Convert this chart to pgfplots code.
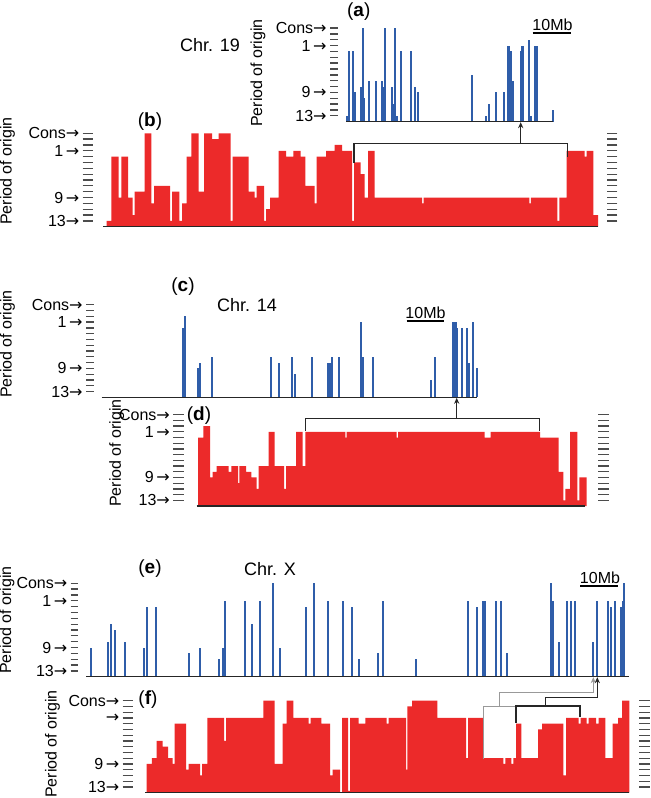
\documentclass[border=0pt]{standalone}
\usepackage{pgfplots}
\pgfplotsset{compat=1.18}
\usepackage{fontspec}
\setmainfont{Liberation Sans}
\newfontfamily\dv{DejaVu Sans}
\usetikzlibrary{arrows.meta}
\definecolor{spike}{RGB}{47,93,169}
\definecolor{barred}{RGB}{236,42,42}
\newcommand\ar{{\dv →}}
\newcommand\lab{\fontsize{8}{9}\selectfont}
\newcommand\chr{\fontsize{9}{10}\selectfont}
\newcommand\pl{\fontsize{9.5}{11}\selectfont}
\pgfplotsset{
  panel/.style={
    scale only axis, clip=false,
    axis line style={draw=none},
    ymin=0, ymax=16, ytick={1,...,16}, xtick=\empty,
    tick align=outside, ytick pos=left,
    tick style={color=black!70, line width=0.65pt},
    yticklabel style={font=\lab, inner sep=0pt, xshift=-1.5pt},
    yticklabels={13\ar,,,,9\,\ar,,,,,,,,1\,\ar,,,Cons\ar},
    anchor=south west,
  },
  spk/.style={ycomb, color=spike, line width=0.9pt},
  redf/.style={const plot, fill=barred, draw=none},
  base/.style={color=black!85, line width=0.6pt},
}
\begin{document}
\begin{tikzpicture}
\useasboundingbox (0,0) rectangle (325.5pt,-399pt);
% ---------- (a)
\begin{axis}[panel, at={(169.15pt,-60.85pt)}, width=108.85pt, height=46.85pt,
  xmin=338.3, xmax=556, major tick length=4.15pt]
\addplot[spk] coordinates {(346.7,1)(349.3,12)(353.3,12)(354.7,5)(360.7,6)(362,6)(363.3,16)(364,4)(369,7)(375.7,7)(382,7)(383.3,6)(384.7,16)(392,6)(393.3,3)(395.3,16)(397.3,1)(401.3,12)(411.3,12)(414.7,6)(418,5)(471.7,8)(486,1)(488.7,3)(496,5)(504,5)(508,13)(509.3,13)(511.3,12)(513.3,7)(520.7,12)(522,13)(523.3,13)(528.7,14)(531.3,1)(535.3,13)(536.7,13)(552.7,2)};
\addplot[base] coordinates {(346,0)(553,0)};
\end{axis}
% ---------- (b)
\begin{axis}[panel, at={(46.65pt,-113.35pt)}, width=256.7pt, height=46.7pt,
  xmin=93.3, xmax=606.7, major tick length=5.3pt, ytick pos=both]
\addplot[redf] coordinates {(106.7,1)(111.3,12)(118.7,5)(121.3,12)(128,5)(132.7,2)(134.7,6)(144.7,16)(151.3,4)(154,7)(170,1)(172,6)(179.3,1)(182,4)(186.7,12)(191.3,16)(198.7,6)(204,16)(212,15)(218.7,16)(230.7,1)(232.7,12)(248.7,6)(254.7,5)(256.7,7)(264,1)(266,3)(270,5)(278.7,13)(286,12)(293.3,13)(300.7,12)(305.3,7)(314.7,4)(316.7,12)(326,13)(334.7,14)(342,13)(352,1)(354,11)(360.7,9)(364.7,5)(368,13)(374.7,5)(422,4)(423.5,5)(529.3,4)(530.8,5)(557.3,1)(559.3,5)(566.7,13)(584.7,12)(586.7,13)(593.3,2)(598,2)} \closedcycle;
\addplot[base] coordinates {(103.3,0)(598,0)};
\end{axis}
% ---------- (c)
\begin{axis}[panel, at={(47pt,-198.65pt)}, width=193pt, height=46.3pt,
  xmin=94, xmax=480, major tick length=4pt]
\addplot[spk] coordinates {(183.3,12)(185.3,14)(198,5)(200,6)(212,7)(270.7,7)(279.3,6)(292,7)(295.3,4)(312,7)(328,6)(330,6)(332,7)(338.7,7)(361.3,13)(363.3,7)(373.3,7)(431.3,3)(435.3,7)(453.3,13)(454.7,13)(456,13)(457.3,12)(462,12)(467.3,12)(468.7,6)(473.3,13)(476.7,5)};
\addplot[base] coordinates {(101.7,0)(477.3,0)};
\end{axis}
% ---------- (d)
\begin{axis}[panel, at={(92pt,-253pt)}, width=207pt, height=45.65pt,
  xmin=184, xmax=598, major tick length=5.35pt, ytick pos=both]
\addplot[redf] coordinates {(198,12)(203.3,14)(210,5)(212.7,6)(216.7,7)(228.7,6)(231.3,7)(238,4)(239.3,7)(246,6)(251.3,5)(256.7,3)(258.7,7)(268.7,13)(274.7,7)(284,3)(286,7)(296,13)(302.7,7)(305.3,13)(345.3,12)(346.7,13)(396.7,12)(398,13)(484.7,12)(490.7,13)(540,12)(558.7,6)(563.3,1)(565.3,3)(570,13)(577.3,1)(579.3,5)(586.7,5)} \closedcycle;
\addplot[base] coordinates {(196.7,0)(585,0)};
\end{axis}
% ---------- (e)
\begin{axis}[panel, at={(39.15pt,-338.35pt)}, width=276.85pt, height=46.7pt,
  xmin=78.3, xmax=632, major tick length=3.8pt]
\addplot[spk] coordinates {(90.7,5)(108,6)(110.7,9)(114.7,8)(125.3,6)(144,5)(146.7,12)(156,12)(189.3,4)(200,5)(218.7,3)(223.3,5)(224.7,13)(245.3,13)(252,9)(260,13)(273.3,16)(280,5)(306,12)(314,16)(328,13)(342.7,13)(352,12)(359.3,3)(378,4)(383.3,13)(416,3)(468,13)(476.7,12)(483.3,13)(484.7,13)(496,13)(500.7,13)(506.7,4)(551.3,16)(552.7,13)(559.3,6)(566.7,13)(571.3,13)(574.7,13)(592.7,6)(596.7,13)(608,13)(610.7,12)(615.3,13)(621.3,12)(623.3,13)(624,16)};
\addplot[base] coordinates {(86,0)(629.3,0)};
\end{axis}
% ---------- (f)
\begin{axis}[panel, at={(66.65pt,-396.35pt)}, width=253pt, height=46pt,
  xmin=133.3, xmax=639.3, major tick length=5.3pt, ytick pos=both,
  yticklabels={13\ar,,,,9\,\ar,,,,,,,,\ar,,,Cons\ar}]
\addplot[redf] coordinates {(146.7,5)(152,6)(156.7,9)(162.7,8)(168,6)(172.7,5)(174.7,12)(186,4)(188.7,5)(200,3)(202,5)(207.3,13)(224,9)(226,13)(263.3,16)(274.7,5)(282.7,12)(286.7,16)(293.3,13)(308.7,12)(310.7,13)(321.3,12)(330,3)(332.7,4)(340,0)(342,13)(348,0.3)(350,13)(358.7,12)(365.3,13)(386.7,12)(388.7,13)(406,4)(407.3,15)(412,16)(437.3,13)(466,6)(468,13)(483.3,6)(503.3,5)(505.3,6)(511.3,5)(513.3,6)(516,12)(521.3,6)(538,11)(542,12)(563.3,3)(566,13)(578.7,12)(580.7,13)(586.7,12)(588.7,13)(596,12)(598.7,13)(605.3,6)(612.7,12)(618,13)(622,16)(629.3,16)} \closedcycle;
\addplot[base] coordinates {(145.3,0)(629.3,0)};
\end{axis}
% ---------- annotations (pixel units)
\begin{scope}[x=0.5pt, y=-0.5pt]
\tikzset{lbl/.style={font=\lab, rotate=90, inner sep=0pt}}
\node[lbl] at (258,73) {Period of origin};
\node[lbl] at (7.5,171) {Period of origin};
\node[lbl] at (7.5,344) {Period of origin};
\node[lbl] at (116.7,453) {Period of origin};
\node[lbl] at (7,620) {Period of origin};
\node[lbl] at (52.5,744) {Period of origin};
\node[font=\chr, inner sep=0pt] at (210,45) {Chr. 19};
\node[font=\chr, inner sep=0pt] at (247,305) {Chr. 14};
\node[font=\chr, inner sep=0pt] at (270,569) {Chr. X};
\node[font=\pl, inner sep=0pt] at (358.7,11.7) {(\textbf{a})};
\node[font=\pl, inner sep=0pt] at (150,122) {(\textbf{b})};
\node[font=\pl, inner sep=0pt] at (183,287) {(\textbf{c})};
\node[font=\pl, inner sep=0pt] at (199,416) {(\textbf{d})};
\node[font=\pl, inner sep=0pt] at (150,569) {(\textbf{e})};
\node[font=\pl, inner sep=0pt] at (148,700) {(\textbf{f})};
% scale bars
\node[font=\lab, inner sep=0pt, anchor=south] at (552.5,31) {10Mb};
\draw[line width=1pt] (532.7,32.7) -- (570.7,32.7);
\node[font=\lab, inner sep=0pt, anchor=south] at (425.5,319) {10Mb};
\draw[line width=1pt] (406.7,320.7) -- (444,320.7);
\node[font=\lab, inner sep=0pt, anchor=south] at (600,584.3) {10Mb};
\draw[line width=1pt] (580,586) -- (617.7,586);
% brackets
\tikzset{arr/.style={-{Stealth[length=3pt,width=2.6pt]}}}
\draw[black!85, line width=0.6pt] (354,162.7) -- (354,143.3) -- (567.3,143.3) -- (567.3,156.7);
\draw[black!85, line width=0.6pt, arr] (520.7,143.3) -- (520.7,122.2);
\draw[black!85, line width=0.6pt] (305.3,430.7) -- (305.3,418.3) -- (539.3,418.3) -- (539.3,430.7);
\draw[black!85, line width=0.6pt, arr] (456.7,418.3) -- (456.7,397.8);
\draw[black!40, line width=0.6pt] (483.3,758.7) -- (483.3,706.7) -- (516,706.7);
\draw[black!40, line width=0.6pt, arr] (499.3,706.7) -- (499.3,692.7) -- (593.3,692.7) -- (593.3,677.2);
\draw[black!85, line width=0.6pt] (516,722.7) -- (516,706) -- (580,706) -- (580,717.3);
\draw[black!85, line width=0.6pt, arr] (545.3,706) -- (545.3,697.3) -- (597.3,697.3) -- (597.3,677.2);
\end{scope}
\end{tikzpicture}
\end{document}
